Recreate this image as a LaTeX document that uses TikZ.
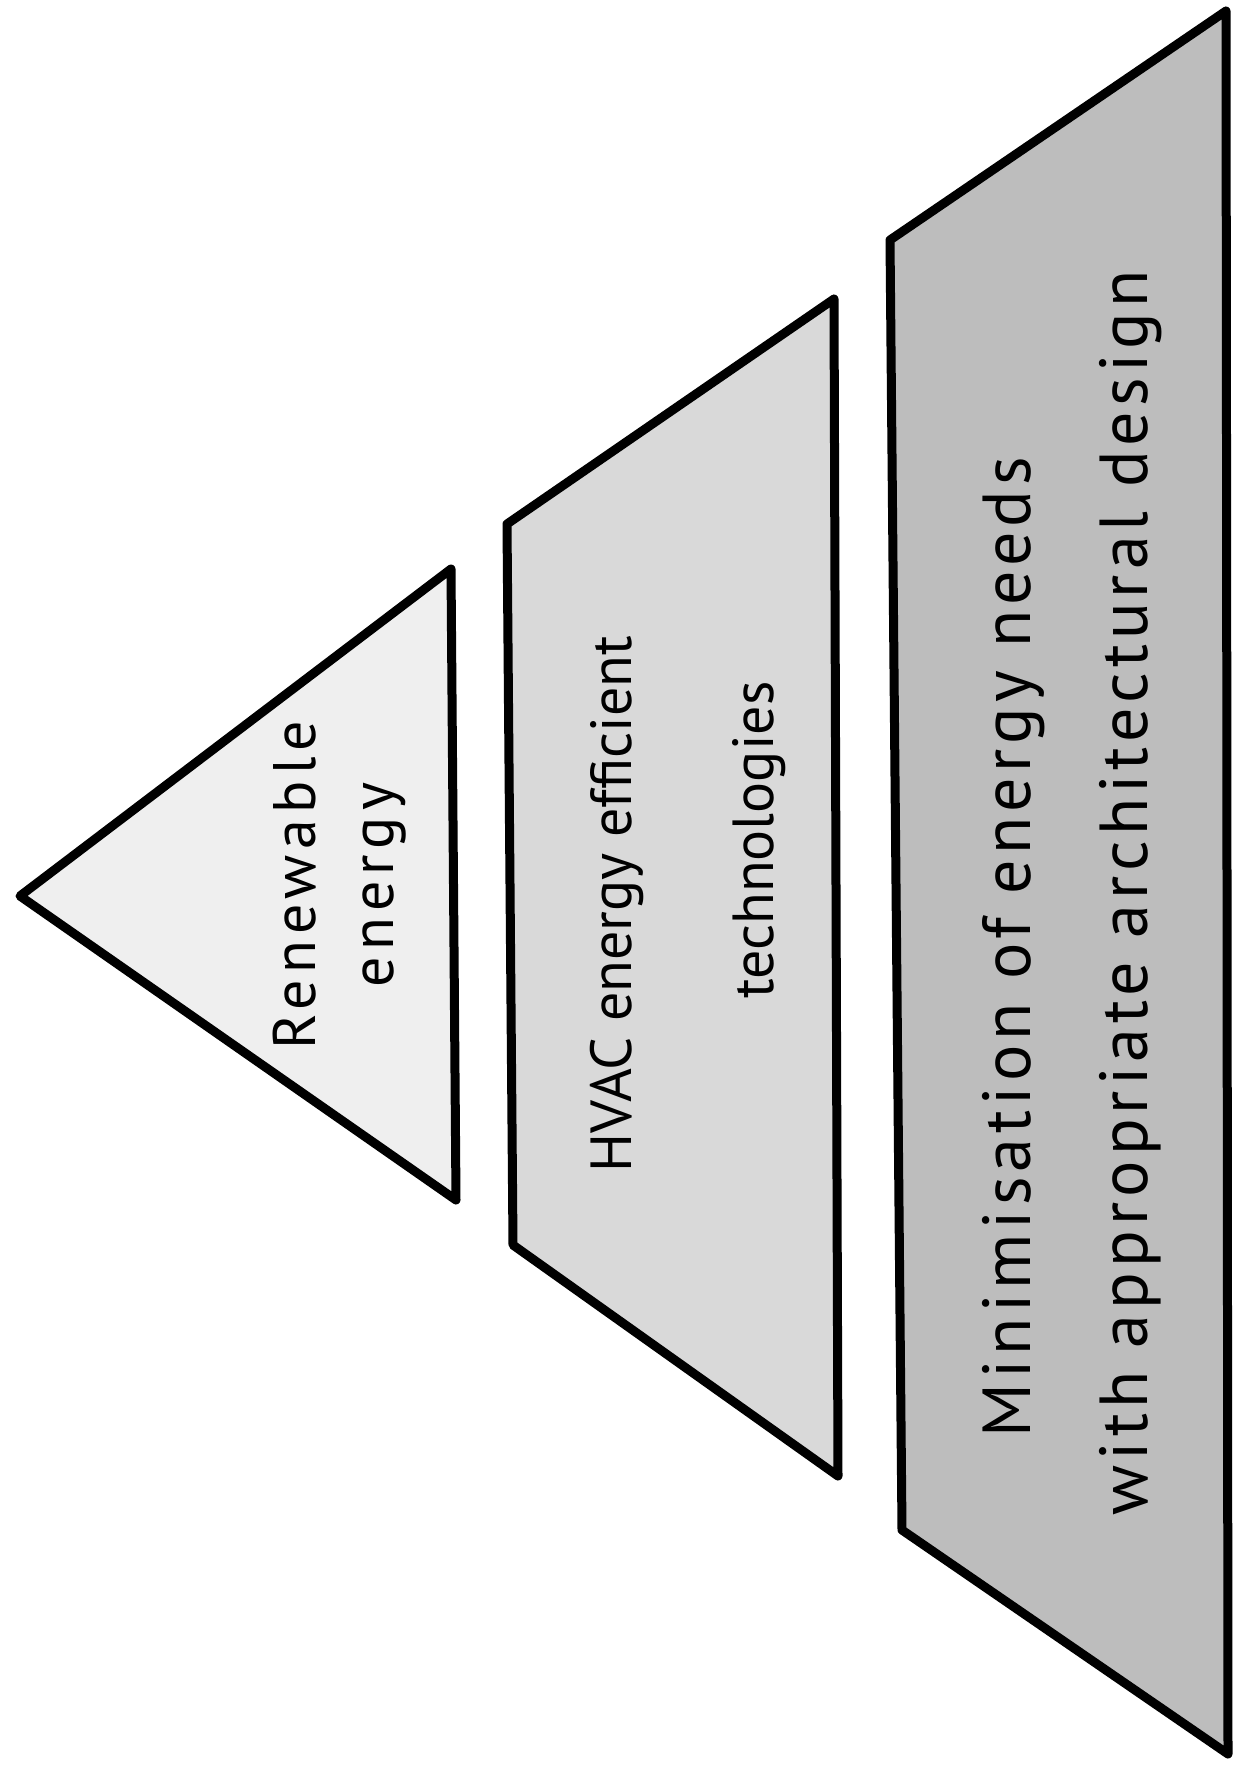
\documentclass[tikz,border=0pt]{standalone}
\usepackage{fontspec}
\newfontfamily\handfont{PT Sans}
\definecolor{tiertop}{HTML}{EFEFEF}
\definecolor{tiermid}{HTML}{D9D9D9}
\definecolor{tierbase}{HTML}{BDBDBD}
\begin{document}
\begin{tikzpicture}[
    x=1pt,y=-1pt,
    tier/.style={draw=black,line width=9pt,line join=round},
    lbl/.style={rotate=90,align=center,inner sep=0pt}
]
\useasboundingbox (0,0) rectangle (1233,1767);
\draw[tier,fill=tiertop] (20,896) -- (451,569) -- (456,1200) -- cycle;
\draw[tier,fill=tiermid] (507,524) -- (834,299) -- (838,1476) -- (513,1245) -- cycle;
\draw[tier,fill=tierbase] (890,240) -- (1226,11) -- (1228,1754) -- (902,1530) -- cycle;
\node[lbl,font=\handfont\fontsize{60}{78}\selectfont\addfontfeature{LetterSpace=10}] (renew) at (340,885) {Renewable\\energy};
\node[lbl,font=\handfont\fontsize{58}{142}\selectfont] (hvac) at (688,904) {HVAC energy efficient\\\hspace*{128pt}technologies};
\node[lbl,font=\handfont\fontsize{68}{117}\selectfont\addfontfeature{LetterSpace=7.5}] (minim) at (1072,893) {Minimisation of energy needs\hspace*{108pt}\\with appropriate architectural design};
\end{tikzpicture}
\end{document}
